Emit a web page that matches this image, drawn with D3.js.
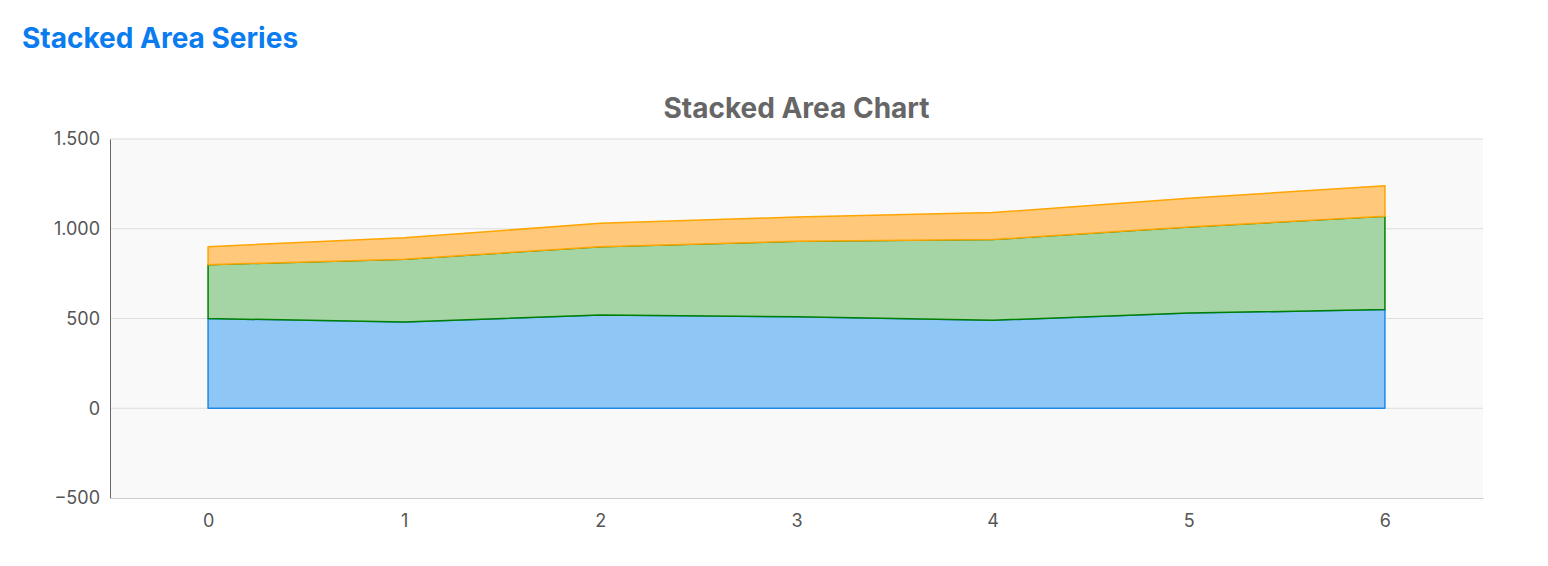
<!DOCTYPE html>
<html>
<head>
<meta charset="utf-8">
<script src="https://cdn.jsdelivr.net/npm/d3@7"></script>
<style>
  body { margin: 0; background: #fff; font-family: Inter, "Noto Sans", sans-serif; }
</style>
</head>
<body>
<div id="chart"></div>
<script>
const categories = [0, 1, 2, 3, 4, 5, 6];
const seriesNames = ["A", "B", "C"];
const seriesA = [500, 480, 520, 510, 490, 530, 550];
const seriesB = [300, 350, 380, 420, 450, 480, 520];
const seriesC = [100, 120, 130, 135, 150, 160, 170];
const yTicks = [-500, 0, 500, 1000, 1500];
const colors = ["#1e88e5", "#008000", "#ffa500"];
const fills = ["#8ec6f6", "#a5d4a5", "#ffc87a"];

const width = 1548, height = 566;
const margin = {top: 139, right: 65, bottom: 68, left: 110};

const rows = categories.map((c, i) => ({x: c, A: seriesA[i], B: seriesB[i], C: seriesC[i]}));
const stacked = d3.stack().keys(seriesNames)(rows);

const svg = d3.select("#chart").append("svg")
    .attr("width", width)
    .attr("height", height);

svg.append("text")
    .attr("x", 22).attr("y", 48)
    .attr("font-size", 28).attr("font-weight", 700)
    .attr("fill", "#0a7cf0")
    .text("Stacked Area Series");

const x = d3.scaleLinear().domain([-0.5, 6.5]).range([margin.left, width - margin.right]);
const y = d3.scaleLinear().domain([-500, 1500]).range([height - margin.bottom, margin.top]);

svg.append("rect")
    .attr("x", margin.left).attr("y", margin.top)
    .attr("width", x.range()[1] - x.range()[0])
    .attr("height", y.range()[0] - y.range()[1])
    .attr("fill", "#f9f9f9");

svg.append("text")
    .attr("x", (x.range()[0] + x.range()[1]) / 2).attr("y", 118)
    .attr("text-anchor", "middle")
    .attr("font-size", 28).attr("font-weight", 700)
    .attr("fill", "#666")
    .text("Stacked Area Chart");

svg.append("g").selectAll("line")
    .data(yTicks.filter(d => d !== -500))
    .enter().append("line")
    .attr("x1", x.range()[0]).attr("x2", x.range()[1])
    .attr("y1", d => y(d)).attr("y2", d => y(d))
    .attr("stroke", "#ddd");

const area = d3.area()
    .x(d => x(d.data.x))
    .y0(d => y(d[0]))
    .y1(d => y(d[1]));

stacked.forEach((s, i) => {
    svg.append("path").datum(s)
        .attr("d", area)
        .attr("fill", fills[i])
        .attr("stroke", colors[i])
        .attr("stroke-width", 1.5)
        .attr("stroke-linejoin", "round");
});

const yAxis = svg.append("g")
    .attr("transform", `translate(${margin.left},0)`)
    .call(d3.axisLeft(y).tickValues(yTicks).tickSize(0).tickPadding(10)
        .tickFormat(d => d3.format(",")(d).replace(/,/g, ".")));
yAxis.select(".domain").attr("stroke", "#666");
yAxis.selectAll("text").attr("font-size", 18).attr("fill", "#555").attr("font-family", "Inter, sans-serif");

const xAxis = svg.append("g")
    .attr("transform", `translate(0,${y.range()[0]})`)
    .call(d3.axisBottom(x).tickValues(categories).tickSize(0).tickPadding(16).tickFormat(d3.format("d")));
xAxis.select(".domain").attr("stroke", "#ccc");
xAxis.selectAll("text").attr("font-size", 18).attr("fill", "#555").attr("font-family", "Inter, sans-serif");
</script>
</body>
</html>
